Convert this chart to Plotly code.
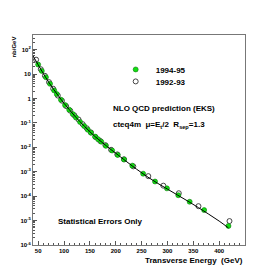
import plotly.graph_objects as go

# Theory curve (NLO QCD, EKS)
theory_et = [40, 50, 60, 70, 80, 90, 100, 110, 120, 130, 140, 150, 160, 175, 190, 200,
             220, 240, 260, 280, 300, 320, 340, 360, 380, 400, 418]
theory_log = [1.75, 1.38, 1.02, 0.68, 0.37, 0.08, -0.20, -0.45, -0.70, -0.93, -1.15, -1.36,
              -1.56, -1.82, -2.08, -2.24, -2.57, -2.89, -3.19, -3.46, -3.71, -3.96, -4.21,
              -4.47, -4.74, -5.02, -5.30]
theory_xs = [10 ** v for v in theory_log]

# 1994-95 data (green)
et_9495 = [50, 57, 65, 73, 81, 86, 94, 102, 110, 117, 123, 131, 139, 146, 152, 160, 166,
           172, 181, 193, 204, 216, 232, 253, 276, 299, 321, 343, 371, 418]
log_9495 = [1.39, 1.13, 0.87, 0.60, 0.33, 0.18, -0.05, -0.27, -0.46, -0.64, -0.78, -0.96,
            -1.13, -1.28, -1.40, -1.56, -1.67, -1.77, -1.94, -2.13, -2.31, -2.50, -2.75,
            -3.08, -3.40, -3.68, -3.96, -4.23, -4.57, -5.22]
xs_9495 = [10 ** v for v in log_9495]

# 1992-93 data (open circles)
et_9293 = [46, 55, 63, 71, 79, 88, 96, 104, 112, 120, 128, 136, 144, 152, 161, 170,
           180, 191, 203, 216, 234, 263, 292, 322, 360, 420]
log_9293 = [1.59, 1.20, 0.93, 0.67, 0.40, 0.12, -0.09, -0.31, -0.50, -0.69, -0.86, -1.05,
            -1.22, -1.39, -1.58, -1.74, -1.91, -2.10, -2.29, -2.49, -2.78, -3.18, -3.57,
            -3.88, -4.41, -5.02]
xs_9293 = [10 ** v for v in log_9293]

y_tickvals = [1e2, 1e1, 1, 1e-1, 1e-2, 1e-3, 1e-4, 1e-5, 1e-6]
y_ticktext = ["10<sup>2</sup>", "10", "1", "10<sup>-1</sup>", "10<sup>-2</sup>",
              "10<sup>-3</sup>", "10<sup>-4</sup>", "10<sup>-5</sup>", "10<sup>-6</sup>"]
x_tickvals = [50, 100, 150, 200, 250, 300, 350, 400]

FONT = "Liberation Sans"
LEG_FONT = dict(size=8, family=FONT, weight="bold")

fig = go.Figure()
fig.add_trace(go.Scatter(
    x=et_9293, y=xs_9293, mode="markers", name="1992-93", legend="legend2",
    marker=dict(symbol="circle-open", size=5, color="#444444", line=dict(width=1)),
))
fig.add_trace(go.Scatter(
    x=et_9495, y=xs_9495, mode="markers", name="1994-95", legend="legend",
    marker=dict(symbol="circle", size=5, color="#11e011",
                line=dict(color="#117711", width=0.6)),
))
fig.add_trace(go.Scatter(
    x=theory_et, y=theory_xs, mode="lines", showlegend=False,
    line=dict(color="black", width=1, shape="spline"),
))

fig.update_layout(
    width=264, height=265,
    margin=dict(l=25, r=27, t=27, b=28),
    paper_bgcolor="white", plot_bgcolor="white",
    font=dict(family=FONT, color="black"),
    showlegend=True,
    legend=dict(x=0.39, y=0.905, xanchor="left", yanchor="top", font=LEG_FONT,
                itemwidth=30, bgcolor="rgba(0,0,0,0)"),
    legend2=dict(x=0.39, y=0.848, xanchor="left", yanchor="top", font=LEG_FONT,
                 itemwidth=30, bgcolor="rgba(0,0,0,0)"),
    xaxis=dict(range=[40, 450], tickvals=x_tickvals, ticks="inside", ticklen=4,
               tickcolor="#555", showgrid=False, zeroline=False,
               showline=True, linecolor="#777", linewidth=1, mirror=True,
               tickfont=dict(size=6, family=FONT, weight="bold"),
               minor=dict(dtick=10, ticks="inside", ticklen=2, tickcolor="#555", showgrid=False)),
    yaxis=dict(type="log", range=[-6, 2.6], tickvals=y_tickvals, ticktext=y_ticktext,
               ticks="inside", ticklen=4, tickcolor="#555", showgrid=False, zeroline=False,
               showline=True, linecolor="#777", linewidth=1, mirror=True,
               tickfont=dict(size=6, family=FONT, weight="bold"),
               minor=dict(dtick="D1", ticks="inside", ticklen=2, tickcolor="#555", showgrid=False)),
    annotations=[
        dict(text="NLO QCD prediction (EKS)", xref="paper", yref="paper",
             x=0.37, y=0.652, xanchor="left", yanchor="middle", showarrow=False,
             font=dict(size=8, family=FONT, weight="bold")),
        dict(text="cteq4m  \u03bc=E<sub>t</sub>/2  R<sub>sep</sub>=1.3", xref="paper", yref="paper",
             x=0.37, y=0.571, xanchor="left", yanchor="middle", showarrow=False,
             font=dict(size=8, family=FONT, weight="bold")),
        dict(text="Statistical Errors Only", xref="paper", yref="paper",
             x=0.11, y=0.11, xanchor="left", yanchor="middle", showarrow=False,
             font=dict(size=8, family=FONT, weight="bold")),
        dict(text="Transverse Energy  (GeV)", xref="paper", yref="paper",
             x=1.0, y=-0.076, xanchor="right", yanchor="middle", showarrow=False,
             font=dict(size=8, family=FONT, weight="bold")),
        dict(text="nb/GeV", xref="paper", yref="paper", textangle=-90,
             x=-0.094, y=1.0, xanchor="center", yanchor="top", showarrow=False,
             font=dict(size=6, family=FONT, weight="bold")),
    ],
)

fig.write_html("out.html")
